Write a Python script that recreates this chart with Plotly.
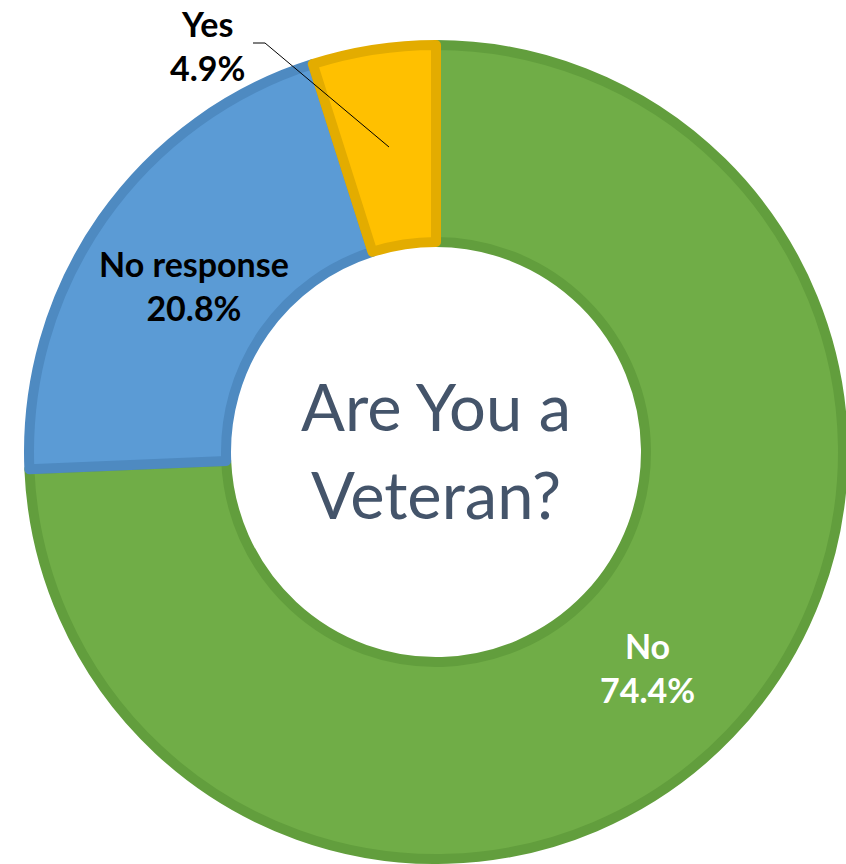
import plotly.graph_objects as go

# Survey responses to "Are you a veteran?"
categories = ["No", "No response", "Yes"]
shares = [74.4, 20.8, 4.9]

fill_colors = ["#70AD47", "#5B9BD5", "#FFC000"]
edge_colors = ["#629E3D", "#4E8AC1", "#E3AC00"]
label_colors = ["#FFFFFF", "#000000", "#000000"]

title_lines = ["Are You a", "Veteran?"]

W, H = 846, 864


def px_to_paper(x, y):
    return x / W, 1 - y / H


# donut geometry in pixels
cx, cy, r_out, r_in = 436, 452, 407, 210

fig = go.Figure(
    go.Pie(
        labels=categories,
        values=shares,
        sort=False,
        direction="clockwise",
        rotation=0,
        hole=r_in / r_out,
        textinfo="none",
        hoverinfo="label+percent",
        marker=dict(colors=fill_colors, line=dict(color=edge_colors, width=10)),
        domain=dict(
            x=[(cx - r_out) / W, (cx + r_out) / W],
            y=[(H - cy - r_out) / H, (H - cy + r_out) / H],
        ),
        showlegend=False,
    )
)

# slice labels (category + share)
label_pos = [(647, 667), (194, 285), (207, 45)]
annotations = []
for name, val, col, (lx, ly) in zip(categories, shares, label_colors, label_pos):
    ax, ay = px_to_paper(lx, ly)
    annotations.append(
        dict(
            x=ax, y=ay, xref="paper", yref="paper",
            text=f"<b>{name}<br>{val:.1f}%</b>",
            showarrow=False, xanchor="center", yanchor="middle",
            font=dict(family="Lato", size=34, color=col),
        )
    )

# title in the hole, one annotation per line
for line, ly in zip(title_lines, [406, 494]):
    tx, ty = px_to_paper(436, ly)
    annotations.append(
        dict(
            x=tx, y=ty, xref="paper", yref="paper",
            text=line,
            showarrow=False, xanchor="center", yanchor="middle",
            font=dict(family="Lato", size=65, color="#44546A"),
        )
    )

# leader line from the "Yes" label into its slice
p0 = px_to_paper(253, 43)
p1 = px_to_paper(265, 43)
p2 = px_to_paper(389, 147)
leader = dict(
    type="path", xref="paper", yref="paper",
    path=f"M {p0[0]},{p0[1]} L {p1[0]},{p1[1]} L {p2[0]},{p2[1]}",
    line=dict(color="#000000", width=1),
)

fig.update_layout(
    width=W, height=H,
    margin=dict(l=0, r=0, t=0, b=0),
    paper_bgcolor="#FFFFFF",
    plot_bgcolor="#FFFFFF",
    annotations=annotations,
    shapes=[leader],
)

fig.write_html("out.html")
